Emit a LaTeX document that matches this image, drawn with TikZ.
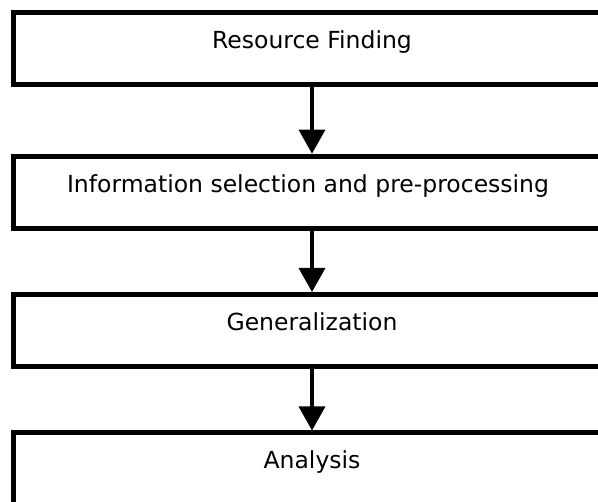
\documentclass[tikz,border=0pt]{standalone}
\usepackage{fontspec}
\setmainfont{DejaVu Sans}
\usetikzlibrary{arrows.meta}

\tikzset{
  stage/.style={draw=black, line width=5pt, rectangle, fill=white,
    minimum width=597pt, minimum height=72pt, inner sep=0pt,
    text height=10pt, text depth=10pt,
    font=\fontsize{23.5}{26}\selectfont},
  flow/.style={line width=3.5pt,
    -{Triangle[width=26pt,length=24pt]}}
}

\begin{document}
\begin{tikzpicture}[x=1pt,y=-1pt]
  \useasboundingbox (0,0) rectangle (598,502);
  \clip (0,0) rectangle (598,502);
  \fill[white] (0,0) rectangle (598,502);

  \node[stage] (find)  at (312,48.5)  {Resource Finding};
  \node[stage] (sel)   at (312,192.2) {\hspace*{-8pt}Information selection and pre-processing};
  \node[stage] (gen)   at (312,330.5) {Generalization};
  \node[stage] (ana)   at (312,469)   {Analysis};

  \draw[flow] (find.south) -- (sel.north);
  \draw[flow] (sel.south)  -- (gen.north);
  \draw[flow] (gen.south)  -- (ana.north);
\end{tikzpicture}
\end{document}
